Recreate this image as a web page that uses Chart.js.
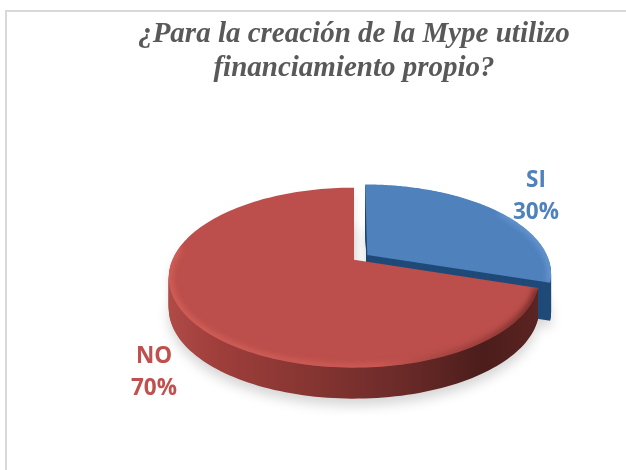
<!DOCTYPE html>
<html>
<head>
<meta charset="utf-8">
<script src="https://cdn.jsdelivr.net/npm/chart.js@4"></script>
<style>
    body { margin: 0; background: #fff; }
    #frame { position: absolute; left: 5px; top: 10px; right: 0; bottom: 0; border-left: 2px solid #d9d9d9; border-top: 2px solid #d9d9d9; }
    #pieChart { position: absolute; left: 0; top: 0; }
</style>
</head>
<body>
<div id="frame"></div>
<canvas id="pieChart" width="626" height="470"></canvas>
<script>
// Chart data
const categories = ['SI', 'NO'];
const values = [30, 70];
const titleLines = ['¿Para la creación de la Mype utilizo', 'financiamiento propio?'];

// Slice colours: top face, label
const faceColors = ['#4f81bd', '#bc4f4b'];
const labelColors = ['#4f81bd', '#c0504d'];

// Tilted view of the disc
const radiusX = 181.5, radiusY = 86.4, perspective = 0.2;
const sideDepth = [38, 31];

// Unit disc position -> canvas position
function project(arc, u, v) {
    const s = 1 / (1 - perspective * v);
    return { x: arc.x + radiusX * u * s, y: arc.y + radiusY * v * s };
}

// Outer edge of a slice, including its explode offset
function edgePoints(arc, from, to) {
    const mid = (arc.startAngle + arc.endAngle) / 2;
    const off = (arc.options.offset || 0) / 4 / arc.outerRadius;
    const pts = [];
    for (let i = 0; i <= 160; i++) {
        const a = from + (to - from) * i / 160;
        pts.push(project(arc, Math.cos(mid) * off + Math.cos(a), Math.sin(mid) * off + Math.sin(a)));
    }
    return pts;
}

function apexPoint(arc) {
    const mid = (arc.startAngle + arc.endAngle) / 2;
    const off = (arc.options.offset || 0) / 4 / arc.outerRadius;
    return project(arc, Math.cos(mid) * off, Math.sin(mid) * off);
}

function slicePath(ctx, arc, dy) {
    const apex = apexPoint(arc);
    ctx.beginPath();
    ctx.moveTo(apex.x, apex.y + dy);
    edgePoints(arc, arc.startAngle, arc.endAngle).forEach(p => ctx.lineTo(p.x, p.y + dy));
    ctx.closePath();
}

function sideFill(ctx, index) {
    if (index === 0) return '#1f4a78';
    const g = ctx.createLinearGradient(168, 0, 540, 0);
    g.addColorStop(0, '#b04b47');
    g.addColorStop(0.12, '#a03f3c');
    g.addColorStop(0.4, '#843431');
    g.addColorStop(0.62, '#6c2b29');
    g.addColorStop(0.85, '#4b1d1b');
    g.addColorStop(1, '#5c2422');
    return g;
}

// Draws the pie from the arc elements the library laid out
const tiltedPie = {
    id: 'tiltedPie',
    beforeDatasetsDraw(chart) {
        const ctx = chart.ctx;
        const arcs = chart.getDatasetMeta(0).data;

        // soft shadow
        ctx.save();
        ctx.filter = 'blur(6px)';
        ctx.fillStyle = 'rgba(0,0,0,0.16)';
        arcs.forEach((arc, i) => { slicePath(ctx, arc, sideDepth[i] + 7); ctx.fill(); });
        ctx.restore();
        ctx.save();
        ctx.filter = 'blur(5px)';
        ctx.fillStyle = 'rgba(0,0,0,0.10)';
        slicePath(ctx, arcs[1], 6);
        ctx.fill();
        ctx.restore();

        arcs.forEach((arc, i) => {
            // side wall
            ctx.fillStyle = sideFill(ctx, i);
            for (let d = sideDepth[i]; d > 0; d--) {
                slicePath(ctx, arc, d);
                ctx.fill();
            }
            // top face
            slicePath(ctx, arc, 0);
            ctx.fillStyle = faceColors[i];
            ctx.fill();

            // rim light on the near edge
            ctx.save();
            slicePath(ctx, arc, 0);
            ctx.clip();
            ctx.filter = 'blur(3px)';
            const g = ctx.createLinearGradient(168, 0, 550, 0);
            if (i === 1) {
                g.addColorStop(0, 'rgba(225,105,98,0.75)');
                g.addColorStop(0.55, 'rgba(225,105,98,0.55)');
                g.addColorStop(0.8, 'rgba(70,20,18,0.35)');
                g.addColorStop(1, 'rgba(50,10,10,0.75)');
            } else {
                g.addColorStop(0, 'rgba(110,160,215,0.0)');
                g.addColorStop(1, 'rgba(120,165,220,0.7)');
            }
            ctx.strokeStyle = g;
            ctx.lineWidth = 6;
            ctx.beginPath();
            const from = Math.max(arc.startAngle, i === 1 ? -0.1 : -0.6);
            const to = Math.min(arc.endAngle, i === 1 ? Math.PI + 0.15 : arc.endAngle);
            edgePoints(arc, from, to).forEach((p, k) => k ? ctx.lineTo(p.x, p.y) : ctx.moveTo(p.x, p.y));
            ctx.stroke();
            ctx.restore();
        });
        return false;
    },
    afterDraw(chart) {
        const ctx = chart.ctx;
        const total = values.reduce((a, b) => a + b, 0);
        // label positions around the pie
        const labelAt = [{ x: 536, y: 181 }, { x: 154, y: 357 }];
        ctx.save();
        ctx.font = 'bold 22.5px "Open Sans", sans-serif';
        ctx.textAlign = 'center';
        ctx.textBaseline = 'middle';
        categories.forEach((name, i) => {
            ctx.fillStyle = labelColors[i];
            ctx.fillText(name, labelAt[i].x, labelAt[i].y);
            ctx.fillText(Math.round(values[i] / total * 100) + '%', labelAt[i].x, labelAt[i].y + 32);
        });
        ctx.restore();
    }
};

const pieChart = new Chart(document.getElementById('pieChart').getContext('2d'), {
    type: 'pie',
    data: {
        labels: categories,
        datasets: [{
            data: values,
            backgroundColor: faceColors,
            borderWidth: 0,
            offset: [54, 0]
        }]
    },
    options: {
        responsive: false,
        animation: false,
        layout: { padding: { left: 82, bottom: 36 } },
        plugins: {
            legend: { display: false },
            tooltip: { enabled: false },
            title: {
                display: true,
                text: titleLines,
                color: '#595959',
                font: { family: '"Liberation Serif"', size: 29, weight: 'bold', style: 'italic', lineHeight: 1.16 },
                padding: { top: 18, bottom: 0 }
            }
        }
    },
    plugins: [tiltedPie]
});
</script>
</body>
</html>
